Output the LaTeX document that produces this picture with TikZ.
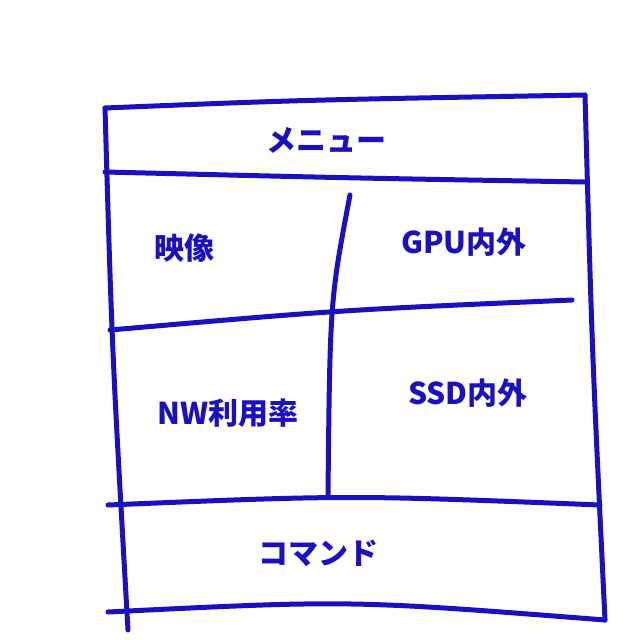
\documentclass[tikz,border=0pt]{standalone}
\usepackage{fontspec}
\newfontfamily\jp{Noto Sans CJK JP}
\definecolor{pen}{HTML}{1A10C0}
\begin{document}
\begin{tikzpicture}[x=1pt,y=-1pt,
  stroke/.style={draw=pen,line width=5pt,line cap=round,line join=round},
  lbl/.style={text=pen,font=\jp\bfseries\fontsize{30}{34}\selectfont}]
\useasboundingbox (0,0) rectangle (640,640);
\draw[stroke] (105,108) .. controls (300,100) .. (585,95);
\draw[stroke] (105,108) .. controls (112,350) .. (128,630);
\draw[stroke] (585,95) .. controls (592,350) .. (605,620);
\draw[stroke] (108,612) .. controls (350,600) .. (605,620);
\draw[stroke] (105,172) .. controls (350,178) .. (585,182);
\draw[stroke] (110,330) .. controls (340,310) .. (572,300);
\draw[stroke] (108,505) .. controls (350,495) .. (600,505);
\draw[stroke] (350,195) .. controls (330,300) .. (328,495);
\node[lbl] (menu) at (326,140) {メニュー};
\node[lbl] (eizo) at (184,248) {映像};
\node[lbl] (gpu) at (464,242) {GPU内外};
\node[lbl] (nw) at (228,413) {NW利用率};
\node[lbl] (ssd) at (468,393) {SSD内外};
\node[lbl] (cmd) at (318,553) {コマンド};
\end{tikzpicture}
\end{document}
